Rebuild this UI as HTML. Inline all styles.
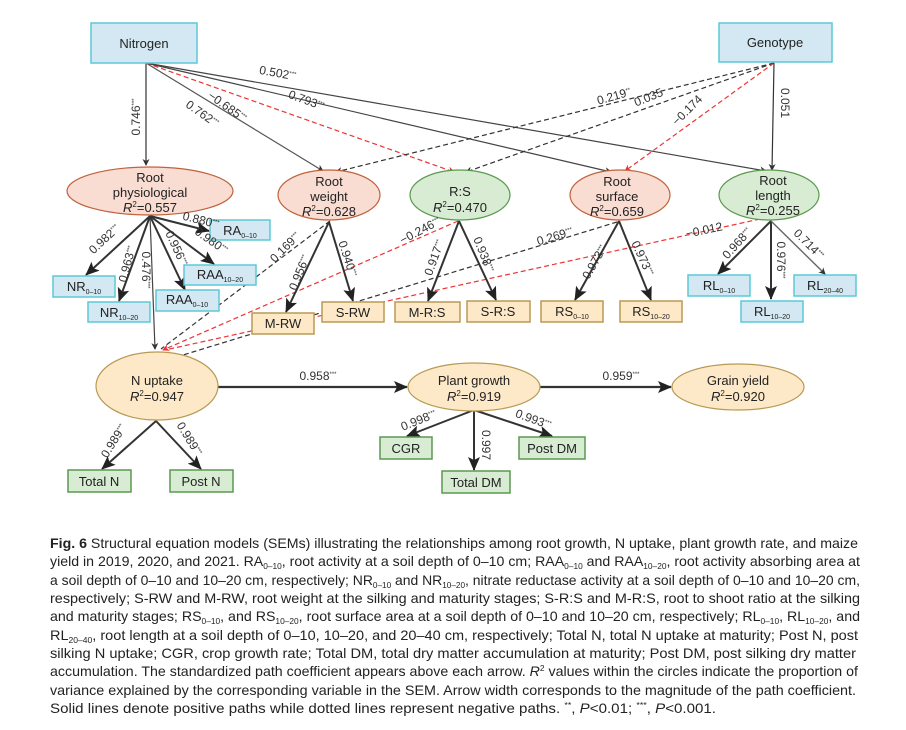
<!DOCTYPE html>
<html><head><meta charset="utf-8"><style>
body{margin:0;background:#fff;width:906px;height:730px;overflow:hidden}
svg{display:block}
text{font-family:"Liberation Sans",Arial,sans-serif;fill:#222}
.n{font-size:13px;text-anchor:middle}
.l{font-size:12px;text-anchor:middle;fill:#333}
.c{font-size:13.6px;fill:#222}
</style></head><body>
<svg width="906" height="730" viewBox="0 0 906 730" xmlns="http://www.w3.org/2000/svg">
<defs>
<marker id="ab" markerWidth="10" markerHeight="10" refX="9" refY="5" orient="auto" markerUnits="userSpaceOnUse"><path d="M0,0 L10,5 L0,10 L3,5 z" fill="#333"/></marker>
<marker id="as" markerWidth="7" markerHeight="7" refX="6" refY="3.5" orient="auto" markerUnits="userSpaceOnUse"><path d="M0,0 L7,3.5 L0,7 L2,3.5 z" fill="#333"/></marker>
<marker id="ar" markerWidth="7" markerHeight="7" refX="6" refY="3.5" orient="auto" markerUnits="userSpaceOnUse"><path d="M0,0 L7,3.5 L0,7 L2,3.5 z" fill="#e33"/></marker>
<marker id="aB" markerWidth="14" markerHeight="12" refX="13" refY="6" orient="auto" markerUnits="userSpaceOnUse"><path d="M0,0 L14,6 L0,12 L3,6 z" fill="#222"/></marker>
</defs>

<!-- top arrows -->
<g fill="none" stroke-width="1.2">
<line x1="146" y1="63" x2="146" y2="165" stroke="#333" marker-end="url(#as)"/>
<line x1="146" y1="63" x2="323" y2="171" stroke="#555" marker-end="url(#as)"/>
<line x1="146" y1="63" x2="454" y2="172" stroke="#e33" stroke-dasharray="5,3" marker-end="url(#ar)"/>
<line x1="146" y1="63" x2="611" y2="172" stroke="#444" marker-end="url(#as)"/>
<line x1="146" y1="63" x2="766" y2="171" stroke="#444" marker-end="url(#as)"/>
<line x1="774" y1="63" x2="336" y2="172" stroke="#333" stroke-dasharray="5,3" marker-end="url(#as)"/>
<line x1="774" y1="63" x2="466" y2="172" stroke="#333" stroke-dasharray="5,3" marker-end="url(#as)"/>
<line x1="774" y1="63" x2="625" y2="171" stroke="#e33" stroke-dasharray="5,3" marker-end="url(#ar)"/>
<line x1="774" y1="63" x2="772" y2="170" stroke="#333" marker-end="url(#as)"/>
<!-- to N uptake -->
<line x1="150" y1="216" x2="155" y2="349" stroke="#444" marker-end="url(#as)"/>
<line x1="330" y1="221" x2="161" y2="349" stroke="#333" stroke-dasharray="5,3"/>
<line x1="458" y1="221" x2="163" y2="350" stroke="#e33" stroke-dasharray="5,3" marker-end="url(#ar)"/>
<line x1="617" y1="222" x2="183" y2="355" stroke="#333" stroke-dasharray="5,3"/>
<line x1="760" y1="219" x2="165" y2="350" stroke="#e33" stroke-dasharray="5,3"/>
</g>

<!-- measurement arrows -->
<g stroke="#333" stroke-width="2" fill="none">
<line x1="150" y1="216" x2="86" y2="275" marker-end="url(#aB)"/>
<line x1="150" y1="216" x2="119" y2="301" marker-end="url(#aB)"/>
<line x1="150" y1="216" x2="185" y2="290" marker-end="url(#aB)"/>
<line x1="150" y1="216" x2="214" y2="264" marker-end="url(#aB)"/>
<line x1="150" y1="216" x2="209" y2="231" marker-end="url(#aB)"/>
<line x1="329" y1="222" x2="286" y2="312" marker-end="url(#aB)"/>
<line x1="329" y1="222" x2="353" y2="301" marker-end="url(#aB)"/>
<line x1="459" y1="221" x2="428" y2="301" marker-end="url(#aB)"/>
<line x1="459" y1="221" x2="496" y2="300" marker-end="url(#aB)"/>
<line x1="619" y1="221" x2="575" y2="300" marker-end="url(#aB)"/>
<line x1="619" y1="221" x2="651" y2="300" marker-end="url(#aB)"/>
<line x1="771" y1="221" x2="718" y2="274" marker-end="url(#aB)"/>
<line x1="771" y1="221" x2="771" y2="299" marker-end="url(#aB)"/>
<line x1="771" y1="221" x2="825" y2="274" stroke="#666" stroke-width="1.4" marker-end="url(#as)"/>
<line x1="156" y1="421" x2="102" y2="469" marker-end="url(#aB)"/>
<line x1="156" y1="421" x2="201" y2="469" marker-end="url(#aB)"/>
<line x1="474" y1="410" x2="407" y2="436" marker-end="url(#aB)"/>
<line x1="474" y1="410" x2="474" y2="470" marker-end="url(#aB)"/>
<line x1="474" y1="410" x2="552" y2="436" marker-end="url(#aB)"/>
<line x1="218" y1="387" x2="407" y2="387" stroke-width="2.2" marker-end="url(#aB)"/>
<line x1="540" y1="387" x2="671" y2="387" stroke-width="2.2" marker-end="url(#aB)"/>
</g>

<!-- top boxes -->
<rect x="91" y="23" width="106" height="40" fill="#d3e8f2" stroke="#5cc9d6" stroke-width="1.5"/>
<text class="n" x="144" y="48" font-size="12.5">Nitrogen</text>
<rect x="719" y="23" width="113" height="39" fill="#d3e8f2" stroke="#5cc9d6" stroke-width="1.5"/>
<text class="n" x="775" y="47" font-size="12.5">Genotype</text>

<!-- latent ellipses -->
<g stroke-width="1.2">
<ellipse cx="150" cy="191" rx="83" ry="24" fill="#f9dcd2" stroke="#c0623c"/>
<ellipse cx="329" cy="195" rx="51" ry="25" fill="#f9dcd2" stroke="#c0623c"/>
<ellipse cx="460" cy="195" rx="50" ry="25" fill="#d8ebd3" stroke="#5a9a4f"/>
<ellipse cx="620" cy="195" rx="50" ry="25" fill="#f9dcd2" stroke="#c0623c"/>
<ellipse cx="769" cy="195" rx="50" ry="25" fill="#d8ebd3" stroke="#5a9a4f"/>
<ellipse cx="157" cy="386" rx="61" ry="34" fill="#fde9c8" stroke="#b89a55"/>
<ellipse cx="474" cy="387" rx="66" ry="24" fill="#fde9c8" stroke="#b89a55"/>
<ellipse cx="738" cy="387" rx="66" ry="23" fill="#fde9c8" stroke="#b89a55"/>
</g>
<g class="n">
<text class="n" x="150" y="182">Root</text><text class="n" x="150" y="197">physiological</text><text class="n" x="150" y="212"><tspan font-style="italic">R</tspan><tspan font-size="8" dy="-5">2</tspan><tspan dy="5">=0.557</tspan></text>
<text class="n" x="329" y="186">Root</text><text class="n" x="329" y="201">weight</text><text class="n" x="329" y="216"><tspan font-style="italic">R</tspan><tspan font-size="8" dy="-5">2</tspan><tspan dy="5">=0.628</tspan></text>
<text class="n" x="460" y="196">R:S</text><text class="n" x="460" y="212"><tspan font-style="italic">R</tspan><tspan font-size="8" dy="-5">2</tspan><tspan dy="5">=0.470</tspan></text>
<text class="n" x="617" y="186">Root</text><text class="n" x="617" y="201">surface</text><text class="n" x="617" y="216"><tspan font-style="italic">R</tspan><tspan font-size="8" dy="-5">2</tspan><tspan dy="5">=0.659</tspan></text>
<text class="n" x="773" y="185">Root</text><text class="n" x="773" y="200">length</text><text class="n" x="773" y="215"><tspan font-style="italic">R</tspan><tspan font-size="8" dy="-5">2</tspan><tspan dy="5">=0.255</tspan></text>
<text class="n" x="157" y="385" font-size="12">N uptake</text><text class="n" x="157" y="401" font-size="12"><tspan font-style="italic">R</tspan><tspan font-size="8" dy="-5">2</tspan><tspan dy="5">=0.947</tspan></text>
<text class="n" x="474" y="385" font-size="12">Plant growth</text><text class="n" x="474" y="401" font-size="12"><tspan font-style="italic">R</tspan><tspan font-size="8" dy="-5">2</tspan><tspan dy="5">=0.919</tspan></text>
<text class="n" x="738" y="385" font-size="12">Grain yield</text><text class="n" x="738" y="401" font-size="12"><tspan font-style="italic">R</tspan><tspan font-size="8" dy="-5">2</tspan><tspan dy="5">=0.920</tspan></text>
</g>

<!-- blue boxes -->
<g fill="#d3e8f2" stroke="#5cc9d6" stroke-width="1.5">
<rect x="210" y="220" width="60" height="20"/>
<rect x="53" y="276" width="62" height="21"/>
<rect x="88" y="302" width="62" height="20"/>
<rect x="156" y="290" width="63" height="21"/>
<rect x="184" y="265" width="72" height="20"/>
<rect x="688" y="275" width="62" height="21"/>
<rect x="741" y="301" width="62" height="21"/>
<rect x="794" y="275" width="62" height="21"/>
</g>
<g fill="#fde9c8" stroke="#b89a55" stroke-width="1.5">
<rect x="252" y="313" width="62" height="21"/>
<rect x="322" y="302" width="62" height="20"/>
<rect x="395" y="302" width="65" height="20"/>
<rect x="467" y="301" width="63" height="21"/>
<rect x="541" y="301" width="62" height="21"/>
<rect x="620" y="301" width="62" height="21"/>
</g>
<g fill="#d8ebd3" stroke="#5a9a4f" stroke-width="1.5">
<rect x="68" y="470" width="63" height="22"/>
<rect x="170" y="470" width="63" height="22"/>
<rect x="380" y="437" width="52" height="22"/>
<rect x="442" y="471" width="68" height="22"/>
<rect x="519" y="437" width="66" height="22"/>
</g>
<g class="n">
<text class="n" x="240" y="235">RA<tspan font-size="7" dy="3">0–10</tspan></text>
<text class="n" x="84" y="291">NR<tspan font-size="7" dy="3">0–10</tspan></text>
<text class="n" x="119" y="317">NR<tspan font-size="7" dy="3">10–20</tspan></text>
<text class="n" x="187" y="304">RAA<tspan font-size="7" dy="3">0–10</tspan></text>
<text class="n" x="220" y="279">RAA<tspan font-size="7" dy="3">10–20</tspan></text>
<text class="n" x="719" y="290">RL<tspan font-size="7" dy="3">0–10</tspan></text>
<text class="n" x="772" y="316">RL<tspan font-size="7" dy="3">10–20</tspan></text>
<text class="n" x="825" y="290">RL<tspan font-size="7" dy="3">20–40</tspan></text>
<text class="n" x="283" y="328">M-RW</text>
<text class="n" x="353" y="317">S-RW</text>
<text class="n" x="427" y="317">M-R:S</text>
<text class="n" x="498" y="316">S-R:S</text>
<text class="n" x="572" y="316">RS<tspan font-size="7" dy="3">0–10</tspan></text>
<text class="n" x="651" y="316">RS<tspan font-size="7" dy="3">10–20</tspan></text>
<text class="n" x="99" y="486" font-size="12">Total N</text>
<text class="n" x="201" y="486" font-size="12">Post N</text>
<text class="n" x="406" y="453" font-size="12">CGR</text>
<text class="n" x="476" y="487" font-size="12">Total DM</text>
<text class="n" x="552" y="453" font-size="12">Post DM</text>
</g>

<!-- path labels -->
<g class="l">
<text class="l" transform="translate(140,117) rotate(-90)">0.746<tspan font-size="6" dy="-4">***</tspan></text>
<text class="l" transform="translate(200,117) rotate(35)">0.762<tspan font-size="6" dy="-4">***</tspan></text>
<text class="l" transform="translate(225,110) rotate(35)">−0.685<tspan font-size="6" dy="-4">***</tspan></text>
<text class="l" transform="translate(305,104) rotate(20)">0.793<tspan font-size="6" dy="-4">***</tspan></text>
<text class="l" transform="translate(277,77) rotate(10)">0.502<tspan font-size="6" dy="-4">***</tspan></text>
<text class="l" transform="translate(615,100) rotate(-16)">0.219<tspan font-size="6" dy="-4">**</tspan></text>
<text class="l" transform="translate(650,101) rotate(-22)">0.035</text>
<text class="l" transform="translate(690,113) rotate(-45)">−0.174</text>
<text class="l" transform="translate(781,103) rotate(90)">0.051</text>
<text class="l" transform="translate(107,242) rotate(-43)">0.982<tspan font-size="6" dy="-4">***</tspan></text>
<text class="l" transform="translate(131,265) rotate(-75)">0.963<tspan font-size="6" dy="-4">***</tspan></text>
<text class="l" transform="translate(142,270) rotate(90)">0.476<tspan font-size="6" dy="-4">***</tspan></text>
<text class="l" transform="translate(173,250) rotate(65)">0.956<tspan font-size="6" dy="-4">***</tspan></text>
<text class="l" transform="translate(209,244) rotate(35)">0.980<tspan font-size="6" dy="-4">***</tspan></text>
<text class="l" transform="translate(200,224) rotate(14)">0.880<tspan font-size="6" dy="-4">***</tspan></text>
<text class="l" transform="translate(288,250) rotate(-45)">0.169<tspan font-size="6" dy="-4">***</tspan></text>
<text class="l" transform="translate(303,274) rotate(-68)">0.956<tspan font-size="6" dy="-4">***</tspan></text>
<text class="l" transform="translate(344,260) rotate(72)">0.940<tspan font-size="6" dy="-4">***</tspan></text>
<text class="l" transform="translate(422,234) rotate(-28)">−0.246<tspan font-size="6" dy="-4">***</tspan></text>
<text class="l" transform="translate(438,259) rotate(-70)">0.917<tspan font-size="6" dy="-4">***</tspan></text>
<text class="l" transform="translate(480,256) rotate(68)">0.938<tspan font-size="6" dy="-4">***</tspan></text>
<text class="l" transform="translate(556,240) rotate(-17)">0.269<tspan font-size="6" dy="-4">***</tspan></text>
<text class="l" transform="translate(598,264) rotate(-60)">0.973<tspan font-size="6" dy="-4">***</tspan></text>
<text class="l" transform="translate(639,260) rotate(65)">0.973<tspan font-size="6" dy="-4">***</tspan></text>
<text class="l" transform="translate(705,234) rotate(-12)">−0.012</text>
<text class="l" transform="translate(740,246) rotate(-48)">0.968<tspan font-size="6" dy="-4">***</tspan></text>
<text class="l" transform="translate(777,260) rotate(90)">0.976<tspan font-size="6" dy="-4">***</tspan></text>
<text class="l" transform="translate(806,247) rotate(45)">0.714<tspan font-size="6" dy="-4">***</tspan></text>
<text class="l" transform="translate(117,443) rotate(-58)">0.989<tspan font-size="6" dy="-4">***</tspan></text>
<text class="l" transform="translate(186,441) rotate(58)">0.989<tspan font-size="6" dy="-4">***</tspan></text>
<text class="l" transform="translate(420,424) rotate(-22)">0.998<tspan font-size="6" dy="-4">***</tspan></text>
<text class="l" transform="translate(482,445) rotate(90)">0.997</text>
<text class="l" transform="translate(532,423) rotate(20)">0.993<tspan font-size="6" dy="-4">***</tspan></text>
<text class="l" x="318" y="380">0.958<tspan font-size="6" dy="-4">***</tspan></text>
<text class="l" x="621" y="380">0.959<tspan font-size="6" dy="-4">***</tspan></text>
</g>

<!-- caption -->
<g class="c">
<text class="c" x="50" y="548" textLength="808" lengthAdjust="spacingAndGlyphs"><tspan font-weight="bold">Fig. 6</tspan>  Structural equation models (SEMs) illustrating the relationships among root growth, N uptake, plant growth rate, and maize</text>
<text class="c" x="50" y="566" textLength="810" lengthAdjust="spacingAndGlyphs">yield in 2019, 2020, and 2021.  RA<tspan font-size="8" dy="3">0–10</tspan><tspan dy="-3">, root activity at a soil depth of 0–10 cm; RAA</tspan><tspan font-size="8" dy="3">0–10</tspan><tspan dy="-3"> and RAA</tspan><tspan font-size="8" dy="3">10–20</tspan><tspan dy="-3">, root activity absorbing area at</tspan></text>
<text class="c" x="50" y="585" textLength="810" lengthAdjust="spacingAndGlyphs">a soil depth of 0–10 and 10–20 cm, respectively; NR<tspan font-size="8" dy="3">0–10</tspan><tspan dy="-3"> and NR</tspan><tspan font-size="8" dy="3">10–20</tspan><tspan dy="-3">, nitrate reductase activity at a soil depth of 0–10 and 10–20 cm,</tspan></text>
<text class="c" x="50" y="603" textLength="810" lengthAdjust="spacingAndGlyphs">respectively; S-RW and M-RW, root weight at the silking and maturity stages; S-R:S and M-R:S, root to shoot ratio at the silking</text>
<text class="c" x="50" y="621" textLength="810" lengthAdjust="spacingAndGlyphs">and maturity stages; RS<tspan font-size="8" dy="3">0–10</tspan><tspan dy="-3">, and RS</tspan><tspan font-size="8" dy="3">10–20</tspan><tspan dy="-3">, root surface area at a soil depth of 0–10 and 10–20 cm, respectively; RL</tspan><tspan font-size="8" dy="3">0–10</tspan><tspan dy="-3">, RL</tspan><tspan font-size="8" dy="3">10–20</tspan><tspan dy="-3">, and</tspan></text>
<text class="c" x="50" y="640" textLength="808" lengthAdjust="spacingAndGlyphs">RL<tspan font-size="8" dy="3">20–40</tspan><tspan dy="-3">, root length at a soil depth of 0–10, 10–20, and 20–40 cm, respectively; Total N, total N uptake at maturity; Post N, post</tspan></text>
<text class="c" x="50" y="658" textLength="806" lengthAdjust="spacingAndGlyphs">silking N uptake; CGR, crop growth rate; Total DM, total dry matter accumulation at maturity; Post DM, post silking dry matter</text>
<text class="c" x="50" y="676" textLength="808" lengthAdjust="spacingAndGlyphs">accumulation.  The standardized path coefficient appears above each arrow.  <tspan font-style="italic">R</tspan><tspan font-size="8" dy="-5">2</tspan><tspan dy="5"> values within the circles indicate the proportion of</tspan></text>
<text class="c" x="50" y="695" textLength="806" lengthAdjust="spacingAndGlyphs">variance explained by the corresponding variable in the SEM.  Arrow width corresponds to the magnitude of the path coefficient.</text>
<text class="c" x="50" y="713" textLength="666" lengthAdjust="spacingAndGlyphs">Solid lines denote positive paths while dotted lines represent negative paths.   <tspan font-size="8" dy="-5">**</tspan><tspan dy="5">, </tspan><tspan font-style="italic">P</tspan>&lt;0.01; <tspan font-size="8" dy="-5">***</tspan><tspan dy="5">, </tspan><tspan font-style="italic">P</tspan>&lt;0.001.</text>
</g>
</svg>
</body></html>
